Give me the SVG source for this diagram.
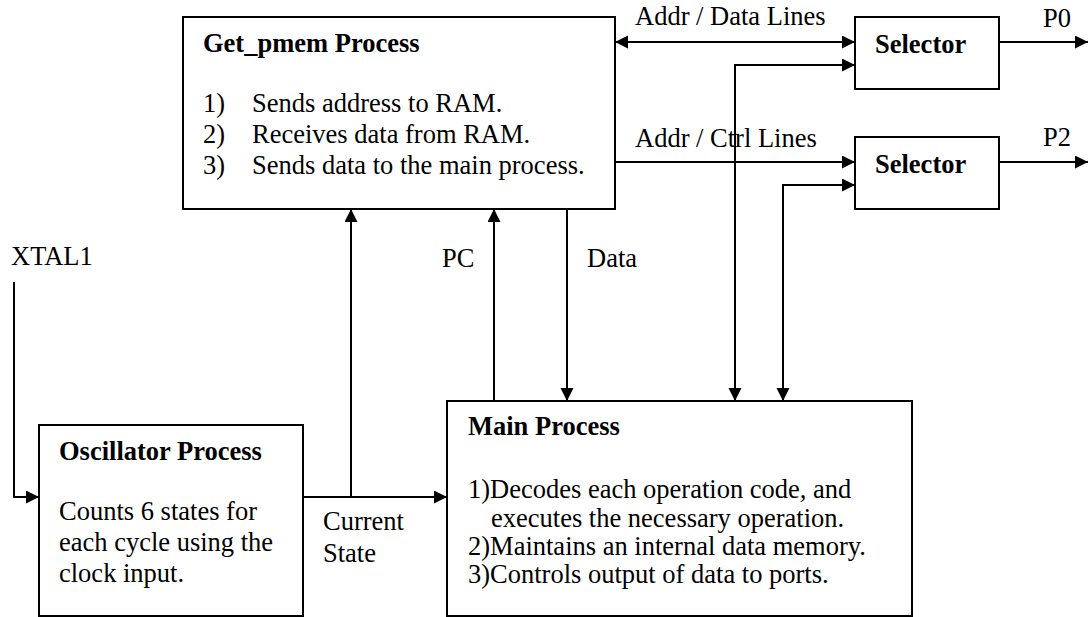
<svg xmlns="http://www.w3.org/2000/svg" width="1088" height="617" viewBox="0 0 1088 617">
<style>
.box{fill:#fff;stroke:#000;stroke-width:2}
.ln{fill:none;stroke:#000;stroke-width:2}
text{font-family:"Liberation Serif","Times New Roman",serif;font-size:26.5px;fill:#000}
.b{font-weight:bold}
</style>
<defs>
<marker id="ah" markerUnits="userSpaceOnUse" markerWidth="14" markerHeight="14" refX="13" refY="6.5" orient="auto-start-reverse">
<path d="M0,0 L13,6.5 L0,13 z" fill="#000"/>
</marker>
</defs>
<rect width="1088" height="617" fill="#fff"/>
<g id="connectors">
<path class="ln" d="M615,42 H855" marker-start="url(#ah)" marker-end="url(#ah)"/>
<path class="ln" d="M999,42 H1088" marker-end="url(#ah)"/>
<path class="ln" d="M615,162 H855" marker-end="url(#ah)"/>
<path class="ln" d="M999,162 H1088" marker-end="url(#ah)"/>
<path class="ln" d="M855,65 H735 V401" marker-start="url(#ah)" marker-end="url(#ah)"/>
<path class="ln" d="M855,185 H783 V401" marker-start="url(#ah)" marker-end="url(#ah)"/>
<path class="ln" d="M567,209 V401" marker-end="url(#ah)"/>
<path class="ln" d="M494,401 V209" marker-end="url(#ah)"/>
<path class="ln" d="M303,497 H447" marker-end="url(#ah)"/>
<path class="ln" d="M351,497 V209" marker-end="url(#ah)"/>
<path class="ln" d="M14,282 V497 H39" marker-end="url(#ah)"/>
<text x="635" y="25">Addr / Data Lines</text>
<text x="635" y="147">Addr / Ctrl Lines</text>
<text x="1043" y="27">P0</text>
<text x="1043" y="146">P2</text>
<text x="11" y="265">XTAL1</text>
<text x="442" y="267">PC</text>
<text x="587" y="267">Data</text>
<text x="323" y="530">Current</text>
<text x="323" y="562">State</text>
</g>
<g id="get_pmem">
<rect class="box" x="183" y="17" width="432" height="192"/>
<text class="b" x="203" y="52">Get_pmem Process</text>
<text x="203" y="112">1)</text><text x="252" y="112">Sends address to RAM.</text>
<text x="203" y="143">2)</text><text x="252" y="143">Receives data from RAM.</text>
<text x="203" y="174">3)</text><text x="252" y="174">Sends data to the main process.</text>
</g>
<g id="selector1">
<rect class="box" x="855" y="17" width="144" height="72"/>
<text class="b" x="875" y="53">Selector</text>
</g>
<g id="selector2">
<rect class="box" x="855" y="137" width="144" height="72"/>
<text class="b" x="875" y="173">Selector</text>
</g>
<g id="oscillator">
<rect class="box" x="39" y="425" width="264" height="191"/>
<text class="b" x="59" y="460">Oscillator Process</text>
<text x="59" y="520">Counts 6 states for</text>
<text x="59" y="551">each cycle using the</text>
<text x="59" y="582">clock input.</text>
</g>
<g id="main">
<rect class="box" x="447" y="401" width="465" height="215"/>
<text class="b" x="468" y="435">Main Process</text>
<text x="468" y="498">1)Decodes each operation code, and</text>
<text x="491" y="527">executes the necessary operation.</text>
<text x="468" y="555">2)Maintains an internal data memory.</text>
<text x="468" y="583">3)Controls output of data to ports.</text>
</g>
</svg>
